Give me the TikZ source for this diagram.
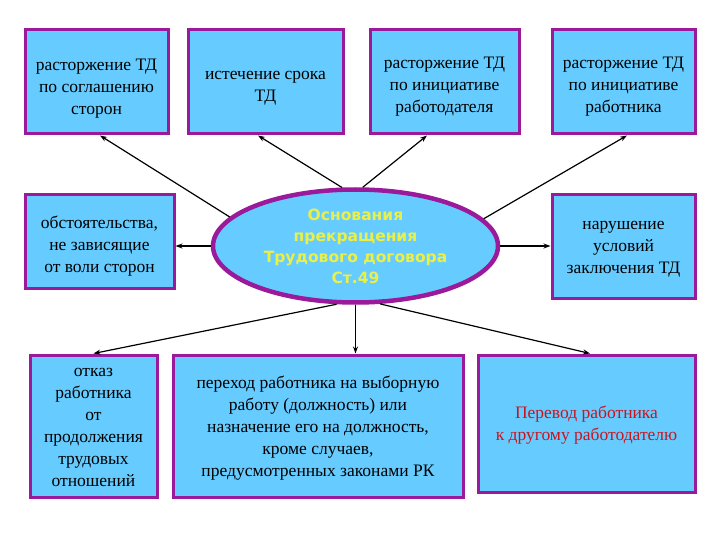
\documentclass[tikz,border=0pt]{standalone}
\usepackage{fontspec}
\setmainfont{Liberation Serif}
\newfontfamily\ellfont{DejaVu Sans}
\usetikzlibrary{shapes.geometric,arrows.meta}
\definecolor{boxfill}{RGB}{102,204,255}
\definecolor{boxline}{RGB}{155,25,155}
\definecolor{elltext}{RGB}{235,240,70}
\definecolor{redtext}{RGB}{200,20,30}
\tikzset{
  card/.style={draw=boxline, fill=boxfill, line width=3pt, rectangle, inner sep=0pt},
  cardtext/.style={inner sep=0pt, align=center, font=\fontsize{17.5}{22}\selectfont},
  arr/.style={line width=1.2pt, -{Stealth[length=7pt,width=5pt]}},
}
\begin{document}
\begin{tikzpicture}[x=1pt,y=-1pt]
\useasboundingbox[fill=white] (0,0) rectangle (720,540);
% top row
\node[card, minimum width=143, minimum height=104] (b1) at (96.5,82) {};
\node[cardtext] (t1) at ([yshift=-7pt]b1.center) {расторжение ТД\\по соглашению\\сторон};
\node[card, minimum width=155, minimum height=104] (b2) at (265.5,82) {};
\node[cardtext] (t2) at ([yshift=-6pt]b2.center) {истечение срока\\ТД};
\node[card, minimum width=149, minimum height=104] (b3) at (444.5,82) {};
\node[cardtext] (t3) at ([yshift=-5pt]b3.center) {расторжение ТД\\по инициативе\\работодателя};
\node[card, minimum width=143, minimum height=104] (b4) at (623.5,82) {};
\node[cardtext] (t4) at ([yshift=-5pt]b4.center) {расторжение ТД\\по инициативе\\работника};
% middle row
\node[card, minimum width=149, minimum height=93] (ml) at (99.5,241.5) {};
\node[cardtext] (tml) at ([yshift=-5pt]ml.center) {обстоятельства,\\не зависящие\\от воли сторон};
\node[card, minimum width=143, minimum height=103] (mr) at (623.5,246.5) {};
\node[cardtext] (tmr) at ([yshift=-3pt]mr.center) {нарушение\\условий\\заключения ТД};
\node[ellipse, draw=boxline, fill=boxfill, line width=4.5pt, minimum width=285, minimum height=113,
  inner sep=0pt, align=center, text=elltext, font=\ellfont\bfseries\fontsize{15.5}{21}\selectfont] (el) at (355.5,246)
  {Основания\\прекращения\\Трудового договора\\Ст.49};
% bottom row
\node[card, minimum width=127, minimum height=142] (bl) at (93.5,426) {};
\node[cardtext] (tbl) at ([yshift=-1pt]bl.center) {отказ\\работника\\от\\продолжения\\трудовых\\отношений};
\node[card, minimum width=290, minimum height=142] (bm) at (318,426) {};
\node[cardtext] (tbm) at ([yshift=-2pt]bm.center) {переход работника на выборную\\работу (должность) или\\назначение его на должность,\\кроме случаев,\\предусмотренных законами РК};
\node[card, minimum width=217, minimum height=137] (br) at (586.5,423.5) {};
\node[cardtext, text=redtext] (tbr) at ([yshift=-2pt]br.center) {Перевод работника\\к другому работодателю};
% connectors
\draw[arr] (el.167) -- ([xshift=3.5pt]b1.south);
\draw[arr] (el.103.6) -- ([xshift=-7.5pt]b2.south);
\draw[arr] (el.83.4) -- ([xshift=-17.5pt]b3.south);
\draw[arr] (el.12.7) -- ([xshift=3.5pt]b4.south);
\draw[arr] (el.west) -- (el.west -| ml.east);
\draw[arr] (el.east) -- (el.east -| mr.west);
\draw[arr] (el.252) -- (bl.north);
\draw[arr] (el.south) -- (el.south |- bm.north);
\draw[arr] (el.293) -- ([xshift=3.5pt]br.north);
\end{tikzpicture}
\end{document}
